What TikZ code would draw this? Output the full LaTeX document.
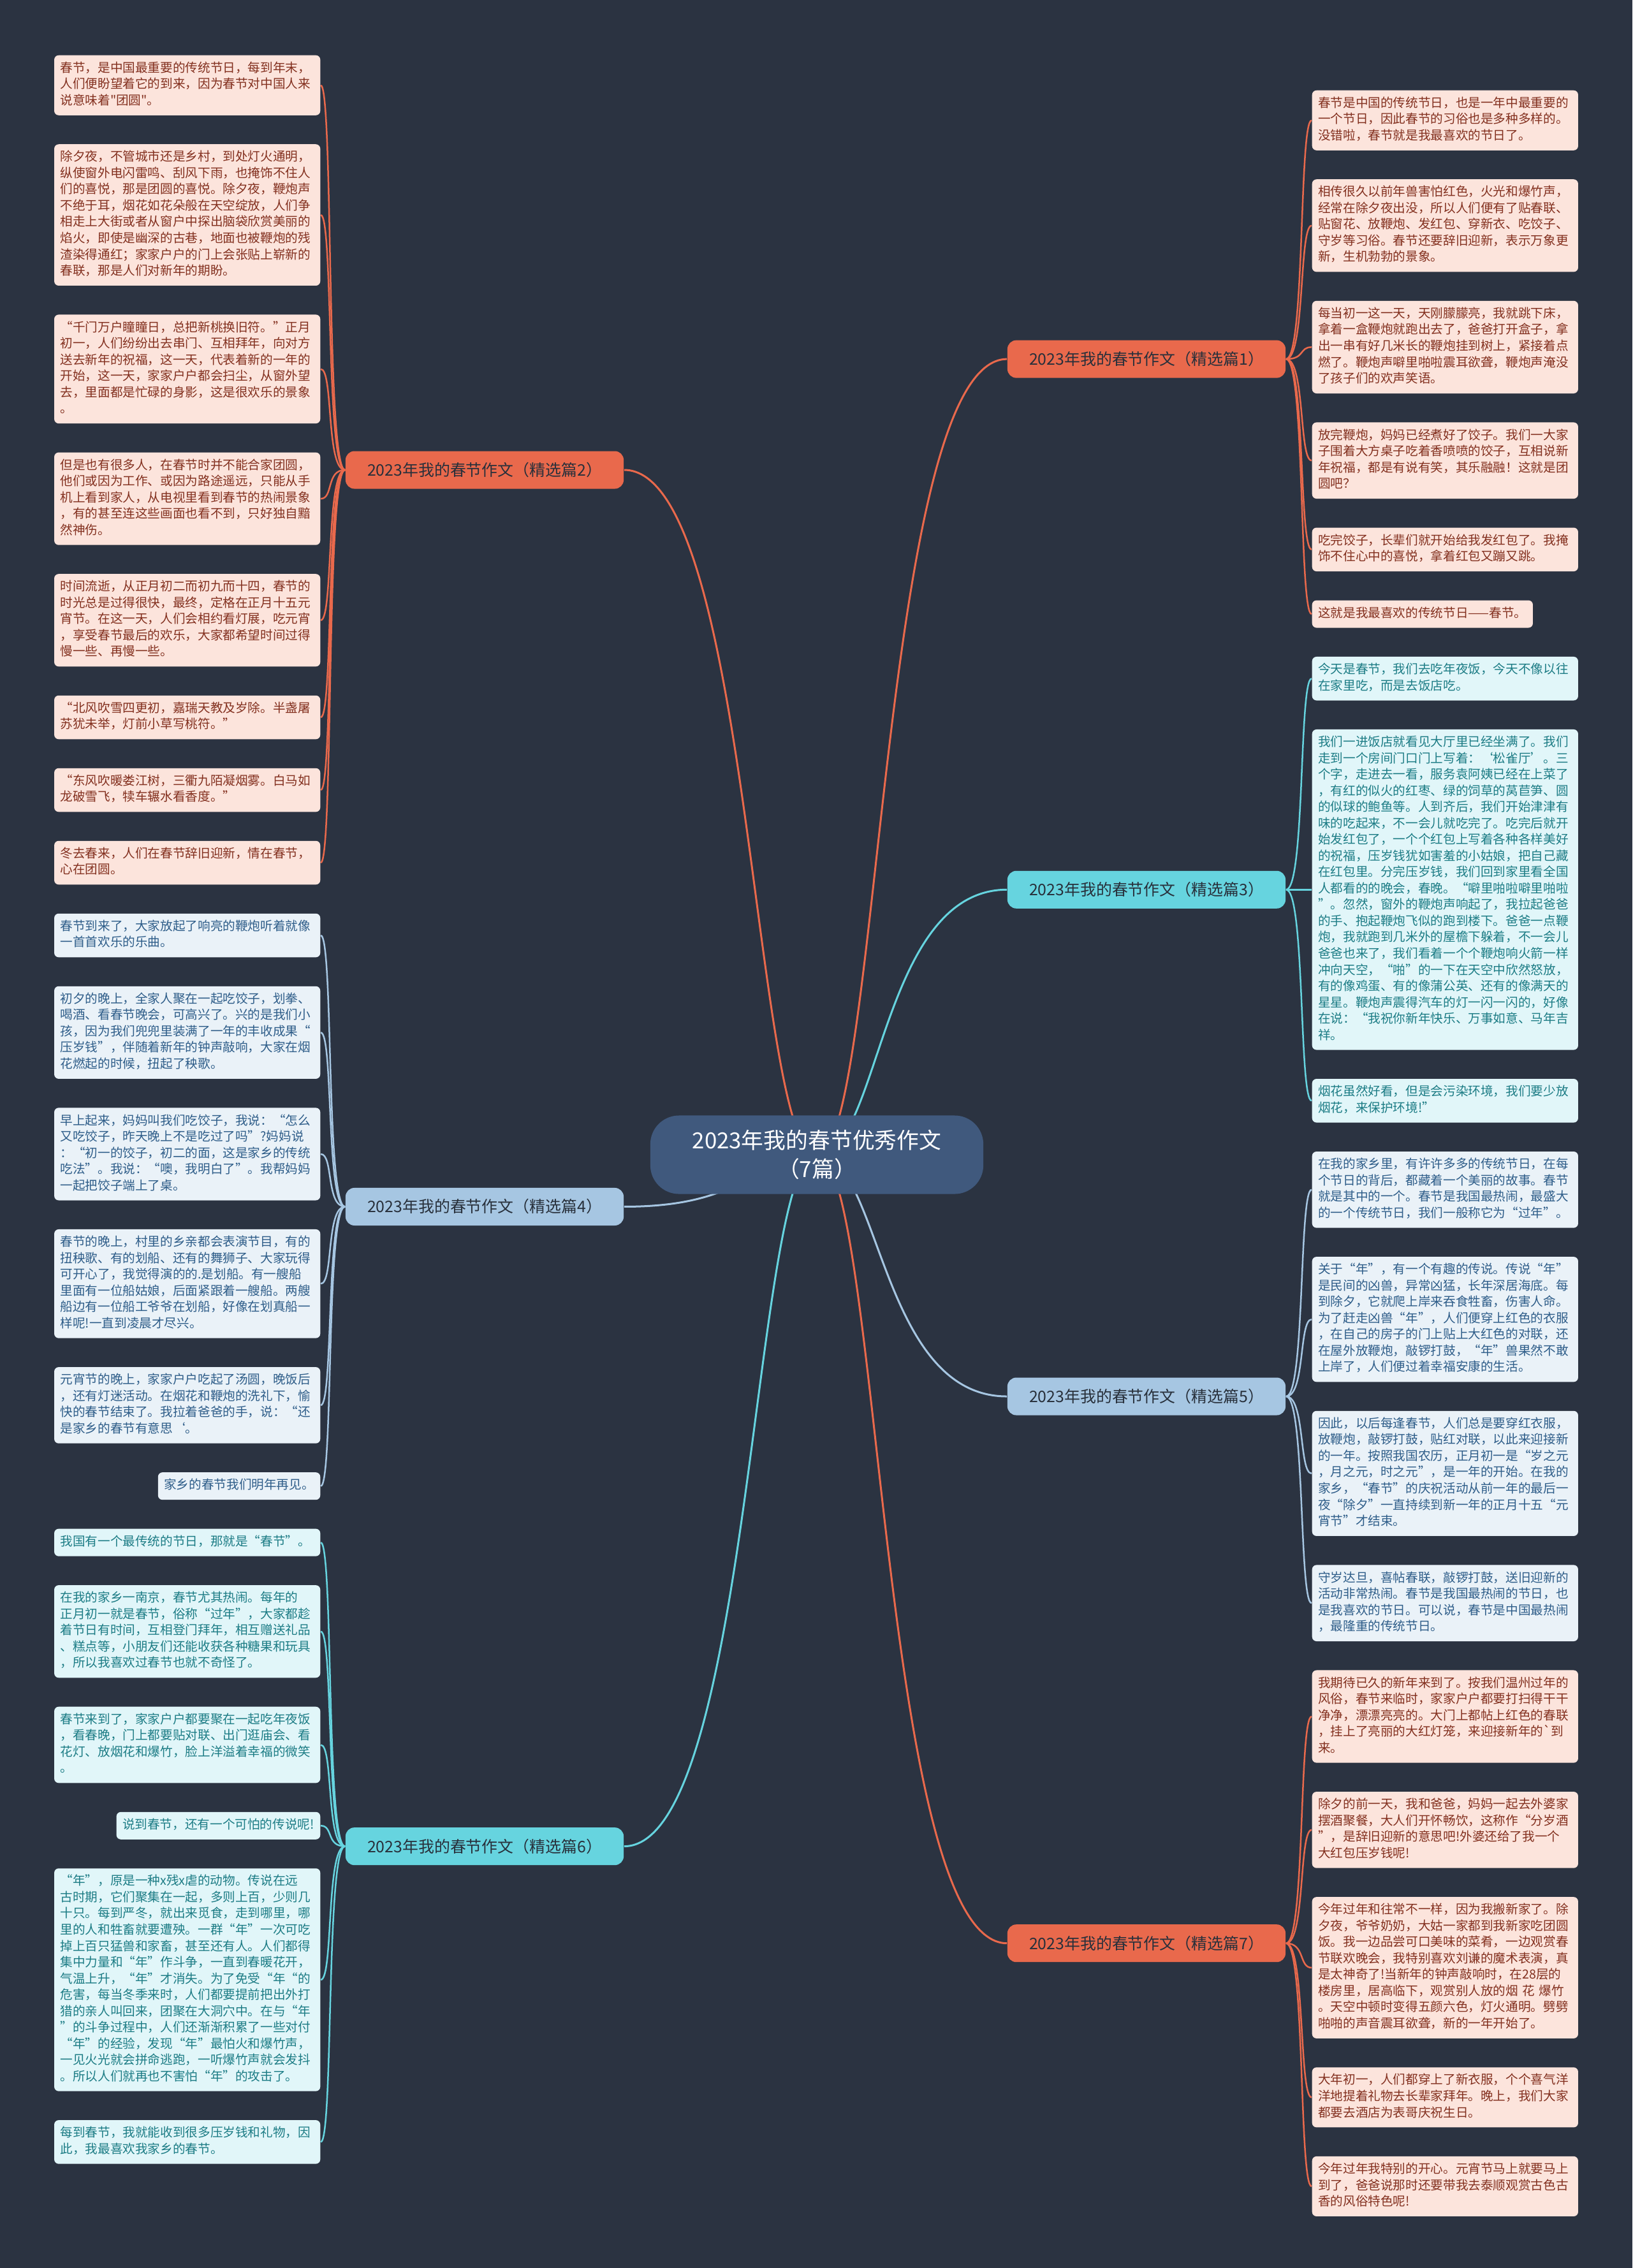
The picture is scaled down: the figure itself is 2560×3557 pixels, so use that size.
\documentclass[tikz,border=0pt]{standalone}
\usepackage{fontspec}
\newfontfamily\cjk{Noto Sans CJK SC}
\usepackage{xcolor}
\definecolor{Night}{HTML}{2B3341}
\definecolor{Slate}{HTML}{40597D}
\definecolor{Coral}{HTML}{E9694C}
\definecolor{Blush}{HTML}{FCE4DC}
\definecolor{Rust}{HTML}{83301F}
\definecolor{Sky}{HTML}{A6C6E2}
\definecolor{Mist}{HTML}{EAF2F8}
\definecolor{Steel}{HTML}{2E5D89}
\definecolor{Aqua}{HTML}{66D4DF}
\definecolor{Foam}{HTML}{E1F6F9}
\definecolor{Sea}{HTML}{1C7C85}
\definecolor{Ink}{HTML}{28303B}
\colorlet{night}{Night}
\colorlet{slate}{Slate}
\colorlet{coral}{Coral}
\colorlet{blush}{Blush}
\colorlet{rust}{Rust}
\colorlet{sky}{Sky}
\colorlet{mist}{Mist}
\colorlet{steel}{Steel}
\colorlet{aqua}{Aqua}
\colorlet{foam}{Foam}
\colorlet{sea}{Sea}
\colorlet{ink}{Ink}
\usepackage{tikz}
\usetikzlibrary{positioning,calc,backgrounds}

\begin{document}
\begin{tikzpicture}[x=0.01cm,y=-0.01cm,node distance=4.4mm,
  leafbox/.style={rounded corners=0.7mm,inner xsep=0.95mm,inner ysep=0.875mm,align=left,font=\cjk\fontsize{5.58pt}{7.26pt}\selectfont,execute at begin node=\strut,execute at end node=\strut},
  widebox/.style={text width=39.8mm},
  cleaf/.style={leafbox,fill=blush,text=rust},
  bleaf/.style={leafbox,fill=mist,text=steel},
  tleaf/.style={leafbox,fill=foam,text=sea},
  branchbox/.style={rounded corners=1.4mm,minimum width=43.6mm,minimum height=5.9mm,inner sep=0pt,text=ink,font=\cjk\fontsize{7.08pt}{8.5pt}\selectfont},
  trunk/.style={line width=0.3mm},
  twig/.style={line width=0.25mm}]
\begin{scope}[on background layer]
\fill[night] (0,0) rectangle (2560,3557);
\end{scope}
% left column
\node[cleaf,widebox,anchor=north east] (a1) at (503,86) {春节，是中国最重要的传统节日，每到年末，\\人们便盼望着它的到来，因为春节对中国人来\\说意味着"团圆"。};
\node[cleaf,widebox,below=of a1.south east,anchor=north east] (a2) {除夕夜，不管城市还是乡村，到处灯火通明，\\纵使窗外电闪雷鸣、刮风下雨，也掩饰不住人\\们的喜悦，那是团圆的喜悦。除夕夜，鞭炮声\\不绝于耳，烟花如花朵般在天空绽放，人们争\\相走上大街或者从窗户中探出脑袋欣赏美丽的\\焰火，即使是幽深的古巷，地面也被鞭炮的残\\渣染得通红；家家户户的门上会张贴上崭新的\\春联，那是人们对新年的期盼。};
\node[cleaf,widebox,below=of a2.south east,anchor=north east] (a3) {“千门万户瞳瞳日，总把新桃换旧符。”正月\\初一，人们纷纷出去串门、互相拜年，向对方\\送去新年的祝福，这一天，代表着新的一年的\\开始，这一天，家家户户都会扫尘，从窗外望\\去，里面都是忙碌的身影，这是很欢乐的景象\\。};
\node[cleaf,widebox,below=of a3.south east,anchor=north east] (a4) {但是也有很多人，在春节时并不能合家团圆，\\他们或因为工作、或因为路途遥远，只能从手\\机上看到家人，从电视里看到春节的热闹景象\\，有的甚至连这些画面也看不到，只好独自黯\\然神伤。};
\node[cleaf,widebox,below=of a4.south east,anchor=north east] (a5) {时间流逝，从正月初二而初九而十四，春节的\\时光总是过得很快，最终，定格在正月十五元\\宵节。在这一天，人们会相约看灯展，吃元宵\\，享受春节最后的欢乐，大家都希望时间过得\\慢一些、再慢一些。};
\node[cleaf,widebox,below=of a5.south east,anchor=north east] (a6) {“北风吹雪四更初，嘉瑞天教及岁除。半盏屠\\苏犹未举，灯前小草写桃符。”};
\node[cleaf,widebox,below=of a6.south east,anchor=north east] (a7) {“东风吹暖娄江树，三衢九陌凝烟雾。白马如\\龙破雪飞，犊车辗水看香度。”};
\node[cleaf,widebox,below=of a7.south east,anchor=north east] (a8) {冬去春来，人们在春节辞旧迎新，情在春节，\\心在团圆。};
\node[bleaf,widebox,below=of a8.south east,anchor=north east] (b1) {春节到来了，大家放起了响亮的鞭炮听着就像\\一首首欢乐的乐曲。};
\node[bleaf,widebox,below=of b1.south east,anchor=north east] (b2) {初夕的晚上，全家人聚在一起吃饺子，划拳、\\喝酒、看春节晚会，可高兴了。兴的是我们小\\孩，因为我们兜兜里装满了一年的丰收成果“\\压岁钱”，伴随着新年的钟声敲响，大家在烟\\花燃起的时候，扭起了秧歌。};
\node[bleaf,widebox,below=of b2.south east,anchor=north east] (b3) {早上起来，妈妈叫我们吃饺子，我说：“怎么\\又吃饺子，昨天晚上不是吃过了吗”?妈妈说\\：“初一的饺子，初二的面，这是家乡的传统\\吃法”。我说：“噢，我明白了”。我帮妈妈\\一起把饺子端上了桌。};
\node[bleaf,widebox,below=of b3.south east,anchor=north east] (b4) {春节的晚上，村里的乡亲都会表演节目，有的\\扭秧歌、有的划船、还有的舞狮子、大家玩得\\可开心了，我觉得演的的.是划船。有一艘船\\里面有一位船姑娘，后面紧跟着一艘船。两艘\\船边有一位船工爷爷在划船，好像在划真船一\\样呢!一直到凌晨才尽兴。};
\node[bleaf,widebox,below=of b4.south east,anchor=north east] (b5) {元宵节的晚上，家家户户吃起了汤圆，晚饭后\\，还有灯迷活动。在烟花和鞭炮的洗礼下，愉\\快的春节结束了。我拉着爸爸的手，说：“还\\是家乡的春节有意思‘。};
\node[bleaf,below=of b5.south east,anchor=north east] (b6) {家乡的春节我们明年再见。};
\node[tleaf,widebox,below=of b6.south east,anchor=north east] (c1) {我国有一个最传统的节日，那就是“春节”。};
\node[tleaf,widebox,below=of c1.south east,anchor=north east] (c2) {在我的家乡一南京，春节尤其热闹。每年的\\正月初一就是春节，俗称“过年”，大家都趁\\着节日有时间，互相登门拜年，相互赠送礼品\\、糕点等，小朋友们还能收获各种糖果和玩具\\，所以我喜欢过春节也就不奇怪了。};
\node[tleaf,widebox,below=of c2.south east,anchor=north east] (c3) {春节来到了，家家户户都要聚在一起吃年夜饭\\，看春晚，门上都要贴对联、出门逛庙会、看\\花灯、放烟花和爆竹，脸上洋溢着幸福的微笑\\。};
\node[tleaf,below=of c3.south east,anchor=north east] (c4) {说到春节，还有一个可怕的传说呢!};
\node[tleaf,widebox,below=of c4.south east,anchor=north east] (c5) {“年”，原是一种x残x虐的动物。传说在远\\古时期，它们聚集在一起，多则上百，少则几\\十只。每到严冬，就出来觅食，走到哪里，哪\\里的人和牲畜就要遭殃。一群“年”一次可吃\\掉上百只猛兽和家畜，甚至还有人。人们都得\\集中力量和“年”作斗争，一直到春暖花开，\\气温上升，“年”才消失。为了免受“年“的\\危害，每当冬季来时，人们都要提前把出外打\\猎的亲人叫回来，团聚在大洞穴中。在与“年\\”的斗争过程中，人们还渐渐积累了一些对付\\“年”的经验，发现“年”最怕火和爆竹声，\\一见火光就会拼命逃跑，一听爆竹声就会发抖\\。所以人们就再也不害怕“年”的攻击了。};
\node[tleaf,widebox,below=of c5.south east,anchor=north east] (c6) {每到春节，我就能收到很多压岁钱和礼物，因\\此，我最喜欢我家乡的春节。};
% right column
\node[cleaf,widebox,anchor=north west] (d1) at (2057,141) {春节是中国的传统节日，也是一年中最重要的\\一个节日，因此春节的习俗也是多种多样的。\\没错啦，春节就是我最喜欢的节日了。};
\node[cleaf,widebox,below=of d1.south west,anchor=north west] (d2) {相传很久以前年兽害怕红色，火光和爆竹声，\\经常在除夕夜出没，所以人们便有了贴春联、\\贴窗花、放鞭炮、发红包、穿新衣、吃饺子、\\守岁等习俗。春节还要辞旧迎新，表示万象更\\新，生机勃勃的景象。};
\node[cleaf,widebox,below=of d2.south west,anchor=north west] (d3) {每当初一这一天，天刚朦朦亮，我就跳下床，\\拿着一盒鞭炮就跑出去了，爸爸打开盒子，拿\\出一串有好几米长的鞭炮挂到树上，紧接着点\\燃了。鞭炮声噼里啪啦震耳欲聋，鞭炮声淹没\\了孩子们的欢声笑语。};
\node[cleaf,widebox,below=of d3.south west,anchor=north west] (d4) {放完鞭炮，妈妈已经煮好了饺子。我们一大家\\子围着大方桌子吃着香喷喷的饺子，互相说新\\年祝福，都是有说有笑，其乐融融！这就是团\\圆吧？};
\node[cleaf,widebox,below=of d4.south west,anchor=north west] (d5) {吃完饺子，长辈们就开始给我发红包了。我掩\\饰不住心中的喜悦，拿着红包又蹦又跳。};
\node[cleaf,below=of d5.south west,anchor=north west] (d6) {这就是我最喜欢的传统节日——春节。};
\node[tleaf,widebox,below=of d6.south west,anchor=north west] (e1) {今天是春节，我们去吃年夜饭，今天不像以往\\在家里吃，而是去饭店吃。};
\node[tleaf,widebox,below=of e1.south west,anchor=north west] (e2) {我们一进饭店就看见大厅里已经坐满了。我们\\走到一个房间门口门上写着：‘松雀厅’。三\\个字，走进去一看，服务袁阿姨已经在上菜了\\，有红的似火的红枣、绿的饲草的莴苣笋、圆\\的似球的鲍鱼等。人到齐后，我们开始津津有\\味的吃起来，不一会儿就吃完了。吃完后就开\\始发红包了，一个个红包上写着各种各样美好\\的祝福，压岁钱犹如害羞的小姑娘，把自己藏\\在红包里。分完压岁钱，我们回到家里看全国\\人都看的的晚会，春晚。“噼里啪啦噼里啪啦\\”。忽然，窗外的鞭炮声响起了，我拉起爸爸\\的手、抱起鞭炮飞似的跑到楼下。爸爸一点鞭\\炮，我就跑到几米外的屋檐下躲着，不一会儿\\爸爸也来了，我们看着一个个鞭炮响火箭一样\\冲向天空，“啪”的一下在天空中欣然怒放，\\有的像鸡蛋、有的像蒲公英、还有的像满天的\\星星。鞭炮声震得汽车的灯一闪一闪的，好像\\在说：“我祝你新年快乐、万事如意、马年吉\\祥。};
\node[tleaf,widebox,below=of e2.south west,anchor=north west] (e3) {烟花虽然好看，但是会污染环境，我们要少放\\烟花，来保护环境!”};
\node[bleaf,widebox,below=of e3.south west,anchor=north west] (f1) {在我的家乡里，有许许多多的传统节日，在每\\个节日的背后，都藏着一个美丽的故事。春节\\就是其中的一个。春节是我国最热闹，最盛大\\的一个传统节日，我们一般称它为“过年”。};
\node[bleaf,widebox,below=of f1.south west,anchor=north west] (f2) {关于“年”，有一个有趣的传说。传说“年”\\是民间的凶兽，异常凶猛，长年深居海底。每\\到除夕，它就爬上岸来吞食牲畜，伤害人命。\\为了赶走凶兽“年”，人们便穿上红色的衣服\\，在自己的房子的门上贴上大红色的对联，还\\在屋外放鞭炮，敲锣打鼓，“年”兽果然不敢\\上岸了，人们便过着幸福安康的生活。};
\node[bleaf,widebox,below=of f2.south west,anchor=north west] (f3) {因此，以后每逢春节，人们总是要穿红衣服，\\放鞭炮，敲锣打鼓，贴红对联，以此来迎接新\\的一年。按照我国农历，正月初一是“岁之元\\，月之元，时之元”，是一年的开始。在我的\\家乡，“春节”的庆祝活动从前一年的最后一\\夜“除夕”一直持续到新一年的正月十五“元\\宵节”才结束。};
\node[bleaf,widebox,below=of f3.south west,anchor=north west] (f4) {守岁达旦，喜帖春联，敲锣打鼓，送旧迎新的\\活动非常热闹。春节是我国最热闹的节日，也\\是我喜欢的节日。可以说，春节是中国最热闹\\，最隆重的传统节日。};
\node[cleaf,widebox,below=of f4.south west,anchor=north west] (g1) {我期待已久的新年来到了。按我们温州过年的\\风俗，春节来临时，家家户户都要打扫得干干\\净净，漂漂亮亮的。大门上都帖上红色的春联\\，挂上了亮丽的大红灯笼，来迎接新年的`到\\来。};
\node[cleaf,widebox,below=of g1.south west,anchor=north west] (g2) {除夕的前一天，我和爸爸，妈妈一起去外婆家\\摆酒聚餐，大人们开怀畅饮，这称作“分岁酒\\”，是辞旧迎新的意思吧!外婆还给了我一个\\大红包压岁钱呢!};
\node[cleaf,widebox,below=of g2.south west,anchor=north west] (g3) {今年过年和往常不一样，因为我搬新家了。除\\夕夜，爷爷奶奶，大姑一家都到我新家吃团圆\\饭。我一边品尝可口美味的菜肴，一边观赏春\\节联欢晚会，我特别喜欢刘谦的魔术表演，真\\是太神奇了!当新年的钟声敲响时，在28层的\\楼房里，居高临下，观赏别人放的烟 花 爆竹\\。天空中顿时变得五颜六色，灯火通明。劈劈\\啪啪的声音震耳欲聋，新的一年开始了。};
\node[cleaf,widebox,below=of g3.south west,anchor=north west] (g4) {大年初一，人们都穿上了新衣服，个个喜气洋\\洋地提着礼物去长辈家拜年。晚上，我们大家\\都要去酒店为表哥庆祝生日。};
\node[cleaf,widebox,below=of g4.south west,anchor=north west] (g5) {今年过年我特别的开心。元宵节马上就要马上\\到了，爸爸说那时还要带我去泰顺观赏古色古\\香的风俗特色呢!};
% branches and root
\coordinate (lx) at (760,0);
\coordinate (rx) at (1798,0);
\coordinate (m1) at ($(d1.north)!0.5!(d6.south)$);
\coordinate (m2) at ($(a1.north)!0.5!(a8.south)$);
\coordinate (m3) at ($(e1.north)!0.5!(e3.south)$);
\coordinate (m4) at ($(b1.north)!0.5!(b6.south)$);
\coordinate (m5) at ($(f1.north)!0.5!(f4.south)$);
\coordinate (m6) at ($(c1.north)!0.5!(c6.south)$);
\coordinate (m7) at ($(g1.north)!0.5!(g5.south)$);
\node[branchbox,fill=coral] (p1) at (rx |- m1) {2023年我的春节作文（精选篇1）};
\node[branchbox,fill=coral] (p2) at (lx |- m2) {2023年我的春节作文（精选篇2）};
\node[branchbox,fill=aqua] (p3) at (rx |- m3) {2023年我的春节作文（精选篇3）};
\node[branchbox,fill=sky] (p4) at (lx |- m4) {2023年我的春节作文（精选篇4）};
\node[branchbox,fill=sky] (p5) at (rx |- m5) {2023年我的春节作文（精选篇5）};
\node[branchbox,fill=aqua] (p6) at (lx |- m6) {2023年我的春节作文（精选篇6）};
\node[branchbox,fill=coral] (p7) at (rx |- m7) {2023年我的春节作文（精选篇7）};
\node[fill=slate,text=white,rounded corners=4.5mm,minimum width=52.2mm,minimum height=12.3mm,align=center,font=\cjk\fontsize{9.9pt}{12.8pt}\selectfont] (root) at (1281,1811) {2023年我的春节优秀作文\\（7篇）};
% connectors
\begin{scope}[on background layer]
\draw[trunk,coral] (root.center) .. controls +(100,0) and +(-200,0) .. (p1.west);
\draw[trunk,aqua] (root.center) .. controls +(100,0) and +(-200,0) .. (p3.west);
\draw[trunk,sky] (root.center) .. controls +(100,0) and +(-200,0) .. (p5.west);
\draw[trunk,coral] (root.center) .. controls +(100,0) and +(-200,0) .. (p7.west);
\draw[trunk,coral] (root.center) .. controls +(-100,0) and +(200,0) .. (p2.east);
\draw[trunk,sky] (root.center) .. controls +(-100,0) and +(200,0) .. (p4.east);
\draw[trunk,aqua] (root.center) .. controls +(-100,0) and +(200,0) .. (p6.east);
\foreach \n in {d1,d2,d3,d4,d5,d6} \draw[twig,coral] (p1.east) .. controls +(30,0) and +(-20,0) .. (\n.west);
\foreach \n in {e1,e2,e3} \draw[twig,aqua] (p3.east) .. controls +(30,0) and +(-20,0) .. (\n.west);
\foreach \n in {f1,f2,f3,f4} \draw[twig,sky] (p5.east) .. controls +(30,0) and +(-20,0) .. (\n.west);
\foreach \n in {g1,g2,g3,g4,g5} \draw[twig,coral] (p7.east) .. controls +(30,0) and +(-20,0) .. (\n.west);
\foreach \n in {a1,a2,a3,a4,a5,a6,a7,a8} \draw[twig,coral] (p2.west) .. controls +(-30,0) and +(20,0) .. (\n.east);
\foreach \n in {b1,b2,b3,b4,b5,b6} \draw[twig,sky] (p4.west) .. controls +(-30,0) and +(20,0) .. (\n.east);
\foreach \n in {c1,c2,c3,c4,c5,c6} \draw[twig,aqua] (p6.west) .. controls +(-30,0) and +(20,0) .. (\n.east);
\end{scope}
\end{tikzpicture}
\end{document}
